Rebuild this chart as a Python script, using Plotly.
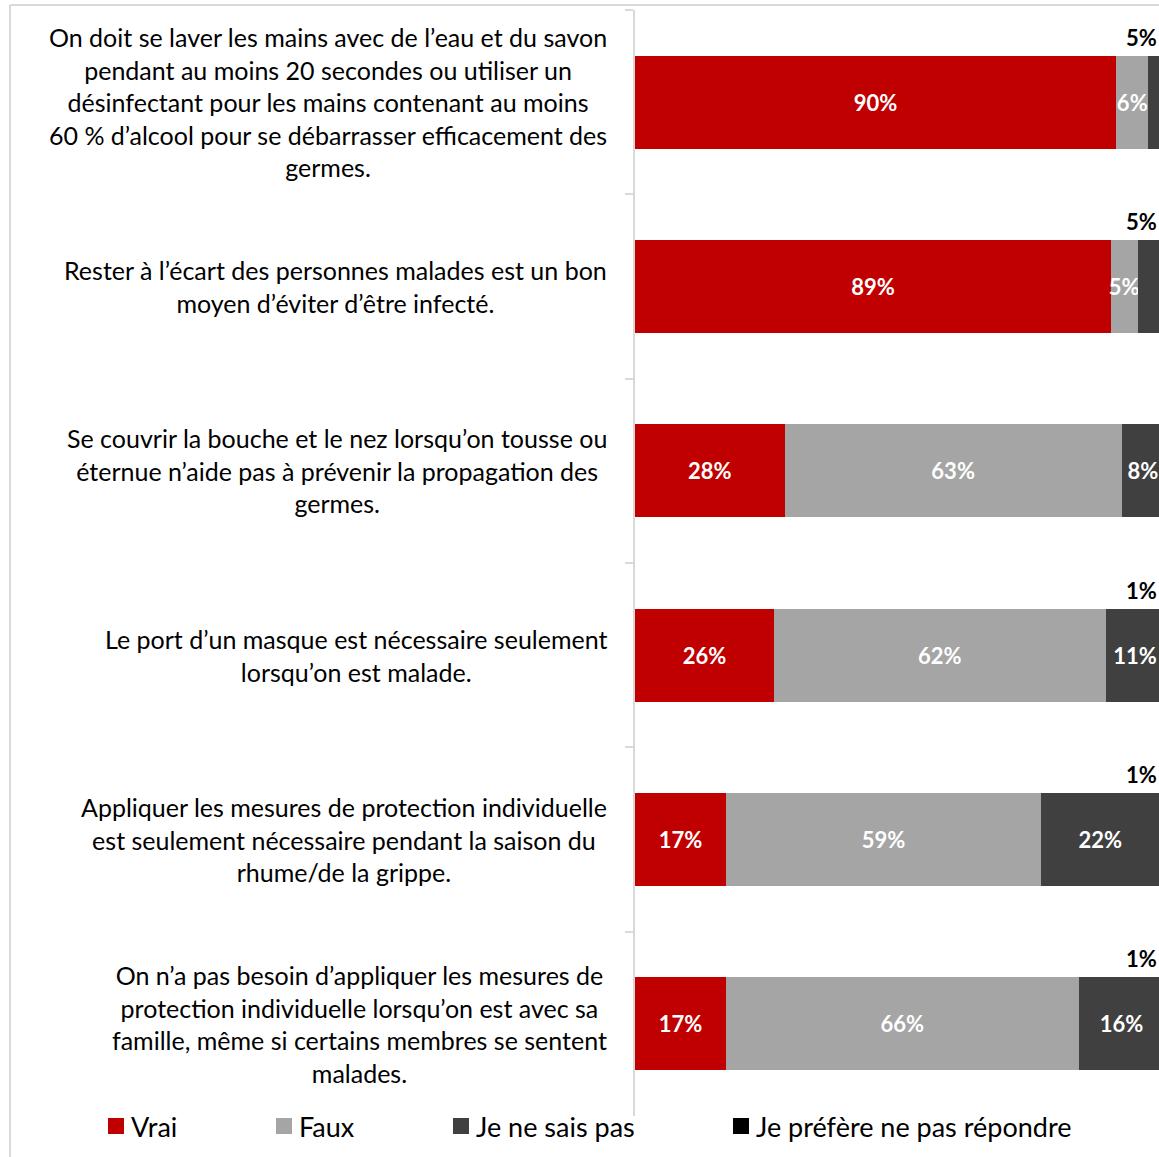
import plotly.graph_objects as go

# Survey statements (one list of wrapped lines per statement)
statements = [
    ["On doit se laver les mains avec de l’eau et du savon",
     "pendant au moins 20 secondes ou utiliser un",
     "désinfectant pour les mains contenant au moins",
     "60 % d’alcool pour se débarrasser efficacement des",
     "germes."],
    ["Rester à l’écart des personnes malades est un bon",
     "moyen d’éviter d’être infecté."],
    ["Se couvrir la bouche et le nez lorsqu’on tousse ou",
     "éternue n’aide pas à prévenir la propagation des",
     "germes."],
    ["Le port d’un masque est nécessaire seulement",
     "lorsqu’on est malade."],
    ["Appliquer les mesures de protection individuelle",
     "est seulement nécessaire pendant la saison du",
     "rhume/de la grippe."],
    ["On n’a pas besoin d’appliquer les mesures de",
     "protection individuelle lorsqu’on est avec sa",
     "famille, même si certains membres se sentent",
     "malades."],
]

series_names = ["Vrai", "Faux", "Je ne sais pas", "Je préfère ne pas répondre"]

# Percent of respondents per answer
vrai = [90, 89, 28, 26, 17, 17]
faux = [6, 5, 63, 62, 59, 66]
ne_sais_pas = [5, 5, 8, 11, 22, 16]
prefere = [0, 0, 0, 1, 1, 1]

colors = ["#C00000", "#A5A5A5", "#404040", "#000000"]
FONT = "Lato"

# Figure geometry (pixels)
W, H = 1159, 1157
ML, MR, MT, MB = 635, 0, 10, 41
PW, PH = W - ML - MR, H - MT - MB
XMAX = 98


def px_x(px):
    return (px - ML) / PW


def px_y(py):
    return (H - MB - py) / PH


categories = [" ".join(lines) for lines in statements]
values = [vrai, faux, ne_sais_pas, prefere]

# Small segments get their label placed above the bar instead of inside
above_series = []
for i in range(len(categories)):
    if ne_sais_pas[i] <= 5:
        above_series.append(2)
    elif prefere[i] > 0:
        above_series.append(3)
    else:
        above_series.append(None)

fig = go.Figure()
for s, (name, vals, col) in enumerate(zip(series_names, values, colors)):
    texts = []
    for i, v in enumerate(vals):
        if s == 3 or above_series[i] == s or v == 0:
            texts.append("")
        else:
            texts.append(f"{v}%")
    fig.add_trace(go.Bar(
        name=name,
        y=categories,
        x=vals,
        orientation="h",
        marker=dict(color=col, line=dict(width=0)),
        text=texts,
        textposition="inside",
        insidetextanchor="middle",
        textangle=0,
        textfont=dict(family=FONT, size=22, color="white", weight="bold"),
        showlegend=False,
        hoverinfo="skip",
    ))

annotations = []

# Statement labels to the left of the bars
for i, lines in enumerate(statements):
    txt = "<br>".join(f'<span style="font-size:25px">{ln}</span>' for ln in lines)
    annotations.append(dict(
        xref="paper", yref="y", x=px_x(609), y=i,
        xanchor="right", yanchor="middle", align="center",
        text=txt, showarrow=False,
        font=dict(family=FONT, size=25, color="#000000"),
    ))

# Labels above the bars for thin segments
for i, s in enumerate(above_series):
    if s is None:
        continue
    end = sum(values[k][i] for k in range(s + 1))
    annotations.append(dict(
        xref="x", yref="y", x=min(end, XMAX), y=i,
        xanchor="right", yanchor="middle", yshift=65,
        text=f"{values[s][i]}%", showarrow=False,
        font=dict(family=FONT, size=22, color="#000000", weight="bold"),
    ))

# Legend drawn as squares + text along the bottom
shapes = []
legend_left = [108, 276, 453, 733]
for name, col, lx in zip(series_names, colors, legend_left):
    shapes.append(dict(
        type="rect", xref="paper", yref="paper",
        x0=px_x(lx), x1=px_x(lx + 16), y0=px_y(1134), y1=px_y(1118),
        fillcolor=col, line=dict(width=0),
    ))
    annotations.append(dict(
        xref="paper", yref="paper", x=px_x(lx + 21), y=px_y(1126),
        xanchor="left", yanchor="middle", text=name, showarrow=False,
        font=dict(family=FONT, size=27, color="#000000"),
    ))

# Outer chart frame
shapes.append(dict(type="line", xref="paper", yref="paper",
                   x0=px_x(10), x1=px_x(W + 5), y0=px_y(5), y1=px_y(5),
                   line=dict(color="#D9D9D9", width=2)))
shapes.append(dict(type="line", xref="paper", yref="paper",
                   x0=px_x(10), x1=px_x(10), y0=px_y(5), y1=px_y(H + 5),
                   line=dict(color="#D9D9D9", width=2)))

fig.update_layout(
    width=W, height=H,
    margin=dict(l=ML, r=MR, t=MT, b=MB, pad=0),
    barmode="stack",
    bargap=0.495,
    plot_bgcolor="white",
    paper_bgcolor="white",
    font=dict(family=FONT, color="#000000"),
    uniformtext=dict(mode="show", minsize=22),
    annotations=annotations,
    shapes=shapes,
    xaxis=dict(range=[0, XMAX], showticklabels=False, showgrid=False,
               zeroline=False, showline=False, ticks="", fixedrange=True),
    yaxis=dict(type="category", autorange="reversed", showticklabels=False,
               showgrid=False, zeroline=False, showline=True,
               linecolor="#D9D9D9", linewidth=2,
               ticks="outside", tickson="boundaries", ticklen=8,
               tickcolor="#D9D9D9", tickwidth=2),
)

fig.write_html("out.html")
